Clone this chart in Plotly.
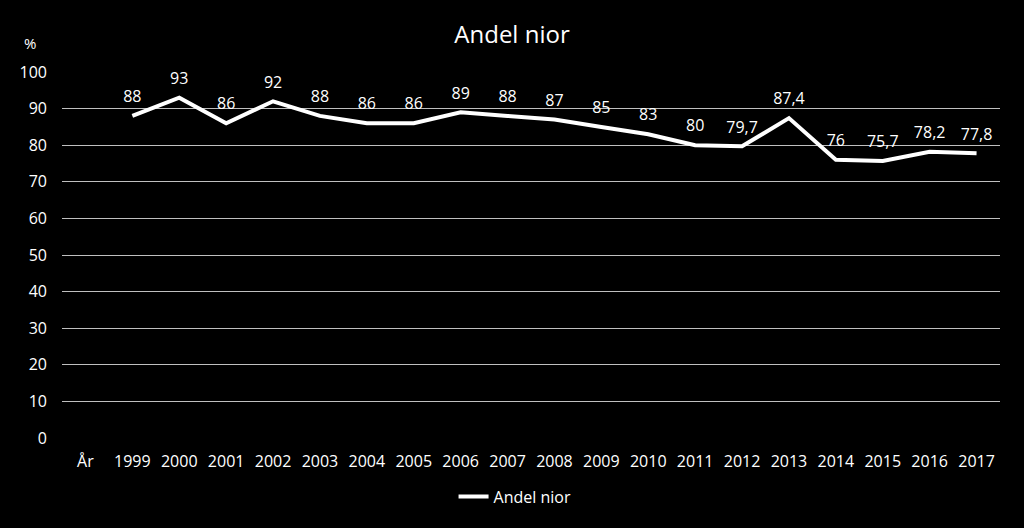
import plotly.graph_objects as go

categories = ["År", "1999", "2000", "2001", "2002", "2003", "2004", "2005", "2006", "2007",
              "2008", "2009", "2010", "2011", "2012", "2013", "2014", "2015", "2016", "2017"]
values = [None, 88, 93, 86, 92, 88, 86, 86, 89, 88, 87, 85, 83, 80, 79.7, 87.4, 76, 75.7, 78.2, 77.8]
y_ticks = [0, 10, 20, 30, 40, 50, 60, 70, 80, 90, 100]

labels = ["" if v is None else (f"{v:g}".replace(".", ",")) for v in values]

FONT = "Open Sans"

fig = go.Figure()
fig.add_trace(go.Scatter(
    x=categories, y=values, mode="lines+markers+text", name="Andel nior",
    line=dict(color="white", width=4),
    marker=dict(size=14, color="rgba(0,0,0,0)"),
    text=labels, textposition="top center",
    textfont=dict(color="white", size=16, family=FONT),
    cliponaxis=False,
))

fig.update_layout(
    width=1024, height=528,
    paper_bgcolor="black", plot_bgcolor="black",
    margin=dict(l=62, r=24, t=72, b=90),
    title=dict(text="Andel nior", x=0.5, xanchor="center", y=0.935, yanchor="middle",
               font=dict(color="white", size=24, family=FONT)),
    font=dict(color="white", family=FONT, size=16),
    showlegend=True,
    legend=dict(orientation="h", x=0.483, xanchor="center", y=-0.16, yanchor="middle",
                font=dict(color="white", size=16, family=FONT), bgcolor="rgba(0,0,0,0)",
                itemwidth=30),
    xaxis=dict(type="category", range=[-0.5, len(categories) - 0.5],
               showgrid=False, showline=False, zeroline=False,
               tickfont=dict(color="white", size=16, family=FONT), ticks="",
               ticklabelstandoff=12),
    yaxis=dict(range=[0, 100], tickvals=y_ticks, showgrid=True, gridcolor="#bfbfbf",
               gridwidth=1, zeroline=False, showline=False, ticks="",
               ticklabelstandoff=14,
               tickfont=dict(color="white", size=16, family=FONT)),
    annotations=[dict(text="%", xref="paper", yref="paper", x=-0.034, y=1.08,
                      xanchor="center", yanchor="middle", showarrow=False,
                      font=dict(color="white", size=15, family=FONT))],
)

fig.write_html("out.html", config={"displayModeBar": False},
               post_script="document.body.style.margin='0';document.body.style.background='black';")
